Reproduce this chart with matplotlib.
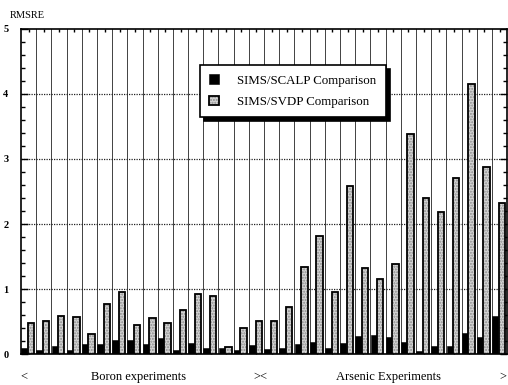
import matplotlib.pyplot as plt
import numpy as np
from matplotlib.ticker import MultipleLocator

plt.rcParams['font.family'] = ['Liberation Serif', 'DejaVu Serif']

# Data: 16 boron experiments followed by 16 arsenic experiments
scalp_boron = [0.09, 0.06, 0.12, 0.06, 0.15, 0.16, 0.22, 0.22,
               0.15, 0.25, 0.06, 0.17, 0.10, 0.10, 0.06, 0.14]
scalp_arsenic = [0.08, 0.10, 0.15, 0.18, 0.09, 0.17, 0.28, 0.30,
                 0.26, 0.19, 0.05, 0.13, 0.13, 0.32, 0.26, 0.59]
svdp_boron = [0.47, 0.51, 0.59, 0.57, 0.31, 0.77, 0.95, 0.44,
              0.56, 0.47, 0.68, 0.92, 0.90, 0.11, 0.40, 0.51]
svdp_arsenic = [0.51, 0.73, 1.34, 1.82, 0.96, 2.59, 1.33, 1.16,
                1.38, 3.38, 2.40, 2.19, 2.70, 4.16, 2.87, 2.32]

scalp = scalp_boron + scalp_arsenic
svdp = svdp_boron + svdp_arsenic
n = len(scalp)
x = np.arange(n)

fig = plt.figure(figsize=(5.08, 3.85), dpi=100)
ax = fig.add_axes([0.0413, 0.0805, 0.957, 0.8442])

dark = ax.bar(x + 0.01, scalp, width=0.41, align='edge', color='black',
              edgecolor='black', linewidth=0.4, zorder=3)
# stippled fill, then a black outline on top
fill = ax.bar(x + 0.44, svdp, width=0.42, align='edge', color='#d4d4d4',
              edgecolor='#8a8a8a', hatch='......', linewidth=0, zorder=3)
outline = ax.bar(x + 0.44, svdp, width=0.42, align='edge', fill=False,
                 edgecolor='black', linewidth=1.3, zorder=4)

ax.set_xlim(0, n)
ax.set_ylim(0, 5)

# vertical separators between experiments
for b in range(1, n):
    ax.axvline(b, color='#222222', linewidth=0.6, zorder=1)
# dotted horizontal grid
for v in [1, 2, 3, 4]:
    ax.axhline(v, color='#222222', linewidth=0.9, linestyle=(0, (1, 1)), zorder=1)

ax.yaxis.set_major_locator(MultipleLocator(1))
ax.yaxis.set_minor_locator(MultipleLocator(0.2))
ax.set_xticks(x + 0.5)
ax.set_xticklabels([])
ax.tick_params(axis='y', which='major', direction='in', length=5, width=1,
               left=True, right=True, labelsize=7.5, pad=9)
ax.tick_params(axis='y', which='minor', direction='in', length=3, width=1,
               left=True, right=True)
ax.tick_params(axis='x', direction='in', length=2.5, width=1,
               top=True, bottom=True)
for lab in ax.get_yticklabels():
    lab.set_fontweight('bold')
for s in ax.spines.values():
    s.set_linewidth(1.2)

leg = ax.legend([dark, (fill, outline)],
                ['SIMS/SCALP Comparison', 'SIMS/SVDP Comparison'],
                loc='upper left', bbox_to_anchor=(0.368, 0.889),
                fontsize=9.3, frameon=True, fancybox=False, framealpha=1,
                edgecolor='black', handlelength=0.8, handleheight=0.8,
                handletextpad=1.4, borderpad=0.7, labelspacing=0.7,
                borderaxespad=0,
                shadow={'color': 'black', 'alpha': 1, 'ox': 3, 'oy': -3})
leg.get_frame().set_linewidth(1.2)
leg.set_zorder(5)

fig.text(10 / 508, 1 - 15 / 385, 'RMSRE', fontsize=7.5, va='center', ha='left')
yb = 1 - 377 / 385
fig.text(24 / 508, yb, '<', fontsize=9, ha='center', va='center')
fig.text(139 / 508, yb, 'Boron experiments', fontsize=9, ha='center', va='center')
fig.text(260 / 508, yb, '><', fontsize=9, ha='center', va='center')
fig.text(389 / 508, yb, 'Arsenic Experiments', fontsize=9, ha='center', va='center')
fig.text(503 / 508, yb, '>', fontsize=9, ha='center', va='center')

fig.savefig('out.png', dpi=100)
